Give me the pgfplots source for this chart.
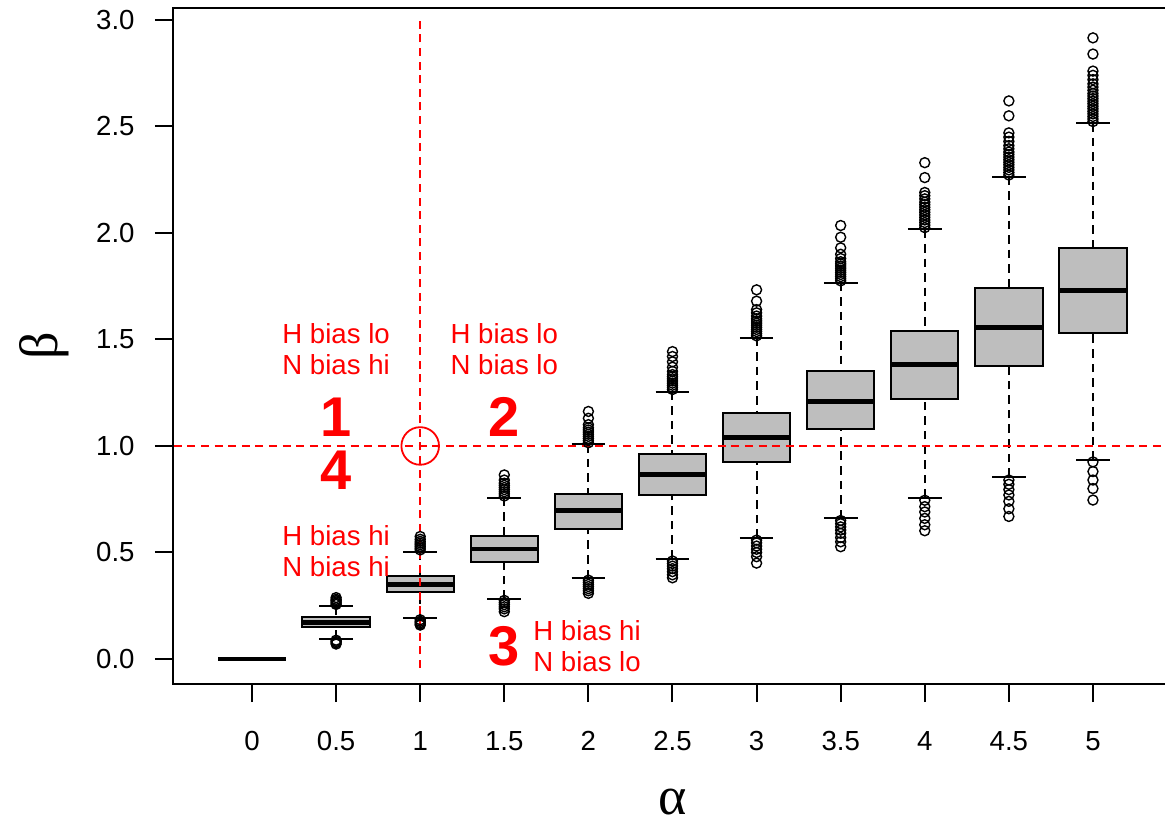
\documentclass[border=0pt]{standalone}
\usepackage{pgfplots}
\pgfplotsset{compat=1.18}
\usepgfplotslibrary{statistics}
\usepackage{fontspec}
\setmainfont{Liberation Sans}
\newfontfamily\grk{Liberation Serif}
\definecolor{boxgray}{HTML}{BEBEBE}
\newcommand{\fs}{\fontsize{13.8}{15.3}\selectfont}
\pgfplotsset{bx/.style={black, solid, mark=o, mark size=2.5pt, mark options={black, solid, line width=0.7pt, fill=none}}}
\begin{document}
\begin{tikzpicture}
\begin{axis}[
  name=ax,
  scale only axis,
  width=499.6pt, height=338.2pt,
  xmin=0.06, xmax=11.94,
  ymin=-0.1176, ymax=3.0576,
  xtick={1,2,3,4,5,6,7,8,9,10,11},
  xticklabels={0,0.5,1,1.5,2,2.5,3,3.5,4,4.5,5},
  ytick={0,0.5,1,1.5,2,2.5,3},
  yticklabels={0.0,0.5,1.0,1.5,2.0,2.5,3.0},
  tick align=outside,
  tick pos=left,
  major tick length=9pt,
  axis line style={line width=1pt},
  tick style={line width=1pt, black},
  xticklabel style={font=\fs, inner sep=0pt, anchor=north},
  yticklabel style={font=\fs, inner sep=0pt, anchor=east},
  xticklabel shift=14.5pt,
  yticklabel shift=10pt,
  clip=false,
  boxplot/draw direction=y,
  boxplot/box extend=0.8,
  boxplot/whisker extend=0.4,
  boxplot/every box/.style={draw=black, solid, fill=boxgray, line width=1pt},
  boxplot/every median/.style={draw=black, solid, line width=2.4pt},
  boxplot/draw/lower whisker/.code={%
    \draw[black, line width=1pt, dash pattern=on 4.3pt off 3pt]
      (boxplot box cs:\pgfplotsboxplotvalue{lower whisker},0.5) --
      (boxplot box cs:\pgfplotsboxplotvalue{lower quartile},0.5);
    \draw[black, solid, line width=1pt]
      (boxplot whisker cs:\pgfplotsboxplotvalue{lower whisker},0) --
      (boxplot whisker cs:\pgfplotsboxplotvalue{lower whisker},1);
  },
  boxplot/draw/upper whisker/.code={%
    \draw[black, line width=1pt, dash pattern=on 4.3pt off 3pt]
      (boxplot box cs:\pgfplotsboxplotvalue{upper whisker},0.5) --
      (boxplot box cs:\pgfplotsboxplotvalue{upper quartile},0.5);
    \draw[black, solid, line width=1pt]
      (boxplot whisker cs:\pgfplotsboxplotvalue{upper whisker},0) --
      (boxplot whisker cs:\pgfplotsboxplotvalue{upper whisker},1);
  },
]
% alpha = 0
\addplot[bx, boxplot prepared={draw position=1, lower whisker=0, lower quartile=0, median=0, upper quartile=0, upper whisker=0}] coordinates {};
% alpha = 0.5
\addplot[bx, boxplot prepared={draw position=2, lower whisker=0.095, lower quartile=0.150, median=0.172, upper quartile=0.195, upper whisker=0.249}]
  coordinates {(2,0.256) (2,0.262) (2,0.268) (2,0.274) (2,0.280) (2,0.288) (2,0.088) (2,0.082) (2,0.076) (2,0.070)};
% alpha = 1
\addplot[bx, boxplot prepared={draw position=3, lower whisker=0.191, lower quartile=0.314, median=0.349, upper quartile=0.389, upper whisker=0.504}]
  coordinates {(3,0.512) (3,0.520) (3,0.528) (3,0.536) (3,0.544) (3,0.552) (3,0.562) (3,0.575) (3,0.184) (3,0.177) (3,0.170) (3,0.164) (3,0.159)};
% alpha = 1.5
\addplot[bx, boxplot prepared={draw position=4, lower whisker=0.282, lower quartile=0.457, median=0.516, upper quartile=0.576, upper whisker=0.757}]
  coordinates {(4,0.765) (4,0.775) (4,0.785) (4,0.795) (4,0.805) (4,0.815) (4,0.825) (4,0.840) (4,0.864)
               (4,0.275) (4,0.265) (4,0.255) (4,0.245) (4,0.235) (4,0.222)};
% alpha = 2
\addplot[bx, boxplot prepared={draw position=5, lower whisker=0.379, lower quartile=0.612, median=0.696, upper quartile=0.776, upper whisker=1.008}]
  coordinates {(5,1.015) (5,1.025) (5,1.035) (5,1.045) (5,1.055) (5,1.065) (5,1.075) (5,1.085) (5,1.100) (5,1.130) (5,1.162)
               (5,0.370) (5,0.360) (5,0.350) (5,0.340) (5,0.330) (5,0.320) (5,0.308)};
% alpha = 2.5
\addplot[bx, boxplot prepared={draw position=6, lower whisker=0.471, lower quartile=0.769, median=0.865, upper quartile=0.964, upper whisker=1.255}]
  coordinates {(6,1.265) (6,1.275) (6,1.285) (6,1.295) (6,1.305) (6,1.315) (6,1.325) (6,1.335) (6,1.350) (6,1.370) (6,1.395) (6,1.420) (6,1.443)
               (6,0.460) (6,0.448) (6,0.436) (6,0.424) (6,0.410) (6,0.395) (6,0.381)};
% alpha = 3
\addplot[bx, boxplot prepared={draw position=7, lower whisker=0.568, lower quartile=0.924, median=1.041, upper quartile=1.155, upper whisker=1.509}]
  coordinates {(7,1.517) (7,1.527) (7,1.537) (7,1.547) (7,1.557) (7,1.567) (7,1.577) (7,1.587) (7,1.597) (7,1.610) (7,1.625) (7,1.640) (7,1.680) (7,1.733)
               (7,0.558) (7,0.545) (7,0.530) (7,0.515) (7,0.500) (7,0.480) (7,0.450)};
% alpha = 3.5
\addplot[bx, boxplot prepared={draw position=8, lower whisker=0.660, lower quartile=1.078, median=1.210, upper quartile=1.352, upper whisker=1.767}]
  coordinates {(8,1.775) (8,1.785) (8,1.795) (8,1.805) (8,1.815) (8,1.825) (8,1.835) (8,1.845) (8,1.855) (8,1.865) (8,1.880) (8,1.900) (8,1.930) (8,1.980) (8,2.035)
               (8,0.650) (8,0.635) (8,0.620) (8,0.605) (8,0.590) (8,0.570) (8,0.550) (8,0.527)};
% alpha = 4
\addplot[bx, boxplot prepared={draw position=9, lower whisker=0.757, lower quartile=1.222, median=1.384, upper quartile=1.541, upper whisker=2.017}]
  coordinates {(9,2.025) (9,2.037) (9,2.049) (9,2.061) (9,2.073) (9,2.085) (9,2.097) (9,2.109) (9,2.121) (9,2.133) (9,2.145) (9,2.160) (9,2.175) (9,2.190) (9,2.260) (9,2.330)
               (9,0.745) (9,0.715) (9,0.690) (9,0.660) (9,0.630) (9,0.602)};
% alpha = 4.5
\addplot[bx, boxplot prepared={draw position=10, lower whisker=0.855, lower quartile=1.377, median=1.558, upper quartile=1.740, upper whisker=2.264}]
  coordinates {(10,2.272) (10,2.284) (10,2.296) (10,2.308) (10,2.320) (10,2.332) (10,2.344) (10,2.356) (10,2.368) (10,2.380) (10,2.395) (10,2.410) (10,2.430) (10,2.450) (10,2.470) (10,2.550) (10,2.620)
               (10,0.840) (10,0.820) (10,0.795) (10,0.770) (10,0.740) (10,0.705) (10,0.669)};
% alpha = 5
\addplot[bx, boxplot prepared={draw position=11, lower whisker=0.935, lower quartile=1.532, median=1.730, upper quartile=1.929, upper whisker=2.515}]
  coordinates {(11,2.523) (11,2.535) (11,2.547) (11,2.559) (11,2.571) (11,2.583) (11,2.595) (11,2.607) (11,2.619) (11,2.631) (11,2.643) (11,2.655) (11,2.670) (11,2.685) (11,2.700) (11,2.720) (11,2.740) (11,2.760) (11,2.840) (11,2.916)
               (11,0.925) (11,0.880) (11,0.840) (11,0.800) (11,0.746)};
% red reference lines
\addplot[red, no marks, line width=1pt, dash pattern=on 4pt off 2.8pt] coordinates {(3,-0.042) (3,3.02)};
\addplot[red, no marks, line width=1pt, dash pattern=on 4pt off 2.8pt] coordinates {(0.07,1) (11.94,1)};
\draw[red, line width=0.9pt] (axis cs:3,1) circle[radius=9.4pt];
% annotations
\node[red, font=\fs, align=center, inner sep=0pt] at (axis cs:2,1.455) {H bias lo\\N bias hi};
\node[red, font=\fs, align=center, inner sep=0pt] at (axis cs:4,1.455) {H bias lo\\N bias lo};
\node[red, font=\fs, align=center, inner sep=0pt] at (axis cs:2,0.507) {H bias hi\\N bias hi};
\node[red, font=\fs, align=left, inner sep=0pt, anchor=west] at (axis cs:4.341,0.061) {H bias hi\\N bias lo};
\node[red, font=\fontsize{28}{30}\selectfont\bfseries, inner sep=0pt] at (axis cs:2,1.134) {1};
\node[red, font=\fontsize{28}{30}\selectfont\bfseries, inner sep=0pt] at (axis cs:4,1.134) {2};
\node[red, font=\fontsize{28}{30}\selectfont\bfseries, inner sep=0pt] at (axis cs:4,0.058) {3};
\node[red, font=\fontsize{28}{30}\selectfont\bfseries, inner sep=0pt] at (axis cs:2,0.885) {4};
% axis labels
\node[font=\fontsize{27}{30}\grk, inner sep=0pt] at ([yshift=-59pt]rel axis cs:0.5,0) {α};
\node[font=\fontsize{27}{30}\grk, inner sep=0pt, rotate=90] at ([xshift=-64.5pt]rel axis cs:0,0.5) {β};
\end{axis}
\pgfresetboundingbox
\path[use as bounding box] ([shift={(-86.5pt,-69.5pt)}]ax.south west) rectangle ([shift={(-3.5pt,3.85pt)}]ax.north east);
\end{tikzpicture}
\end{document}
